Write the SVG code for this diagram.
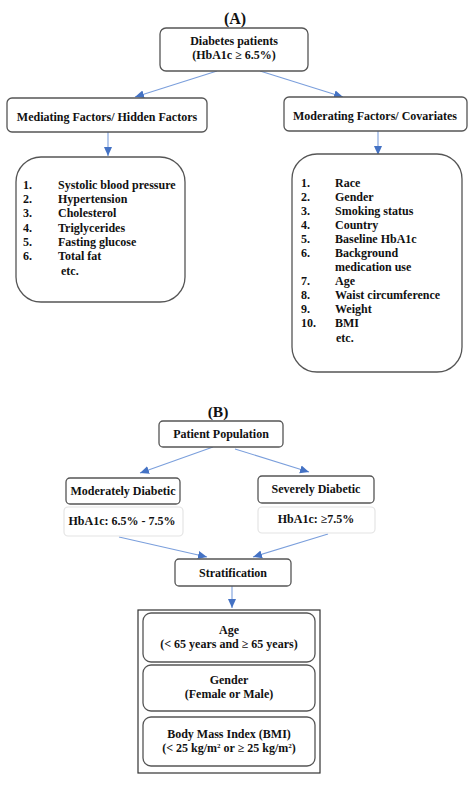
<svg xmlns="http://www.w3.org/2000/svg" width="472" height="786" viewBox="0 0 472 786">
<defs>
<marker id="ah" markerUnits="userSpaceOnUse" markerWidth="10" markerHeight="10" viewBox="0 0 10 10" refX="9" refY="5" orient="auto">
<path d="M0,1 L9,5 L0,9 Z" fill="#4472C4"/>
</marker>
<style>
text{font-family:"Liberation Serif","Times New Roman",serif;font-weight:bold;font-size:12px;fill:#111}
.c{text-anchor:middle}
.box{fill:#fff;stroke:#555;stroke-width:1.3}
.lbox{fill:#fff;stroke:#e4e4e4;stroke-width:1.2}
.con line{stroke:#7b9fdc;stroke-width:1.1;marker-end:url(#ah)}
</style>
</defs>
<rect width="472" height="786" fill="#fff"/>
<text x="235" y="24" class="c" style="font-size:16px">(A)</text>
<text x="218" y="417" class="c" style="font-size:15.5px">(B)</text>

<g class="con">
<line x1="217" y1="71" x2="135" y2="97"/>
<line x1="260" y1="71" x2="343" y2="97"/>
<line x1="108" y1="132" x2="108" y2="156"/>
<line x1="378" y1="131" x2="378" y2="155"/>
<line x1="213" y1="447" x2="140" y2="473"/>
<line x1="235" y1="449" x2="309" y2="472"/>
<line x1="119" y1="537" x2="207" y2="557"/>
<line x1="328" y1="534" x2="253" y2="557"/>
<line x1="232" y1="586" x2="232" y2="608"/>
</g>

<g id="diabetes">
<rect class="box" x="160" y="28" width="148" height="43" rx="6"/>
<text x="234" y="45" class="c">Diabetes patients</text>
<text x="234" y="59" class="c">(HbA1c ≥ 6.5%)</text>
</g>

<g id="mediating">
<rect class="box" x="7" y="98" width="200" height="34" rx="5"/>
<text x="107" y="121" class="c">Mediating Factors/ Hidden Factors</text>
</g>

<g id="moderating">
<rect class="box" x="284" y="97" width="183" height="34" rx="5"/>
<text x="375" y="120" class="c">Moderating Factors/ Covariates</text>
</g>

<g id="mediating-list">
<rect class="box" x="16" y="157" width="169" height="145" rx="25"/>
<text x="23" y="189">1.</text><text x="58" y="189">Systolic blood pressure</text>
<text x="23" y="203">2.</text><text x="58" y="203">Hypertension</text>
<text x="23" y="217">3.</text><text x="58" y="217">Cholesterol</text>
<text x="23" y="232">4.</text><text x="58" y="232">Triglycerides</text>
<text x="23" y="246">5.</text><text x="58" y="246">Fasting glucose</text>
<text x="23" y="260">6.</text><text x="58" y="260">Total fat</text>
<text x="61" y="275">etc.</text>
</g>

<g id="moderating-list">
<rect class="box" x="292" y="154" width="170" height="218" rx="25"/>
<text x="301" y="187">1.</text><text x="335" y="187">Race</text>
<text x="301" y="201">2.</text><text x="335" y="201">Gender</text>
<text x="301" y="215">3.</text><text x="335" y="215">Smoking status</text>
<text x="301" y="229">4.</text><text x="335" y="229">Country</text>
<text x="301" y="243">5.</text><text x="335" y="243">Baseline HbA1c</text>
<text x="301" y="257">6.</text><text x="335" y="257">Background</text>
<text x="335" y="271">medication use</text>
<text x="301" y="285">7.</text><text x="335" y="285">Age</text>
<text x="301" y="299">8.</text><text x="335" y="299">Waist circumference</text>
<text x="301" y="313">9.</text><text x="335" y="313">Weight</text>
<text x="301" y="327">10.</text><text x="335" y="327">BMI</text>
<text x="336" y="342">etc.</text>
</g>

<g id="patient-population">
<rect class="box" x="159" y="421" width="124" height="26" rx="4"/>
<text x="221" y="438" class="c">Patient Population</text>
</g>

<g id="moderately">
<rect class="box" x="66" y="478" width="114" height="26" rx="4"/>
<text x="123" y="495" class="c">Moderately Diabetic</text>
</g>

<g id="moderately-range">
<rect class="lbox" x="64" y="507" width="119" height="29" rx="4"/>
<text x="122" y="525" class="c">HbA1c: 6.5% - 7.5%</text>
</g>

<g id="severely">
<rect class="box" x="258" y="476" width="116" height="27" rx="4"/>
<text x="316" y="493" class="c">Severely Diabetic</text>
</g>

<g id="severely-range">
<rect class="lbox" x="258" y="507" width="117" height="26" rx="4"/>
<text x="316" y="523" class="c">HbA1c: ≥7.5%</text>
</g>

<g id="stratification">
<rect class="box" x="175" y="559" width="116" height="27" rx="4"/>
<text x="233" y="577" class="c">Stratification</text>
</g>

<g id="strata">
<rect x="138" y="610" width="182" height="163" fill="#fff" stroke="#333" stroke-width="1.2"/>
<rect class="box" x="143" y="613" width="172" height="49" rx="8"/>
<text x="229" y="634" class="c">Age</text>
<text x="229" y="648" class="c">(&lt; 65 years and ≥ 65 years)</text>
<rect class="box" x="143" y="665" width="172" height="46" rx="8"/>
<text x="229" y="684" class="c">Gender</text>
<text x="229" y="698" class="c">(Female or Male)</text>
<rect class="box" x="143" y="717" width="172" height="49" rx="8"/>
<text x="229" y="738" class="c">Body Mass Index (BMI)</text>
<text x="229" y="752" class="c">(&lt; 25 kg/m<tspan dy="-4" style="font-size:7px">2</tspan><tspan dy="4"> or ≥ 25 kg/m</tspan><tspan dy="-4" style="font-size:7px">2</tspan><tspan dy="4">)</tspan></text>
</g>
</svg>
